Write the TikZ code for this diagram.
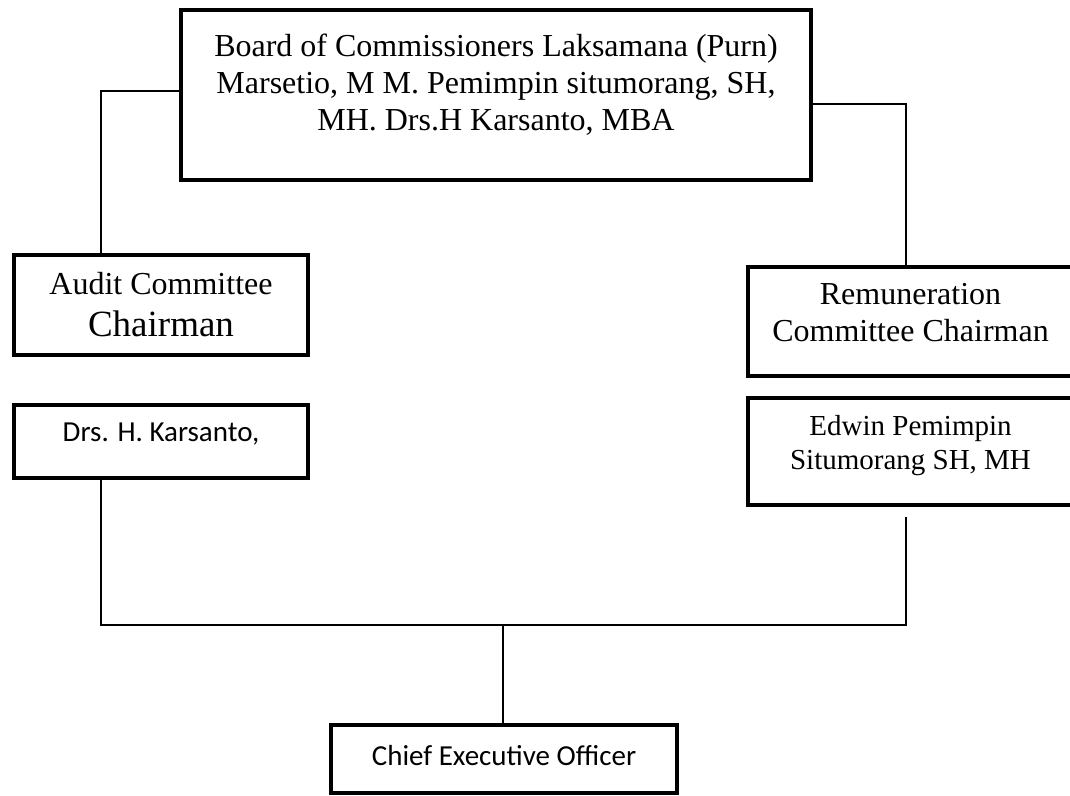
\documentclass[tikz,border=0pt]{standalone}
\usepackage{fontspec}
\setmainfont{Liberation Serif}
\newfontfamily\calibri{Carlito}
\newcommand{\lowstrut}[1]{\rule[-#1]{0pt}{#1}}

\begin{document}
\begin{tikzpicture}[x=0.5pt, y=-0.5pt,
        box/.style={draw, line width=2pt, align=center, inner sep=0pt},
        link/.style={line width=0.7pt}]
    \useasboundingbox (0,0) rectangle (1070,796);
    \clip (0,0) rectangle (1070,796);

        \node [box, minimum width=315pt, minimum height=85pt, font=\fontsize{16}{18.5}\selectfont] (board) at (496,95)
            {Board of Commissioners Laksamana (Purn)\\Marsetio, M M. Pemimpin situmorang, SH,\\MH. Drs.H Karsanto, MBA\lowstrut{12.5pt}};
        \node [box, minimum width=147pt, minimum height=50pt, font=\fontsize{16}{21}\selectfont] (audit) at (161,305)
            {Audit Committee\\{\fontsize{18.5}{21}\selectfont Chairman}};
        \node [box, minimum width=147pt, minimum height=36.5pt, font=\calibri\fontsize{14.5}{17}\selectfont] (drs) at (161,441.5)
            {Drs. H. Karsanto,\lowstrut{9pt}};
        \node [box, minimum width=162.5pt, minimum height=54.5pt, font=\fontsize{16}{18.5}\selectfont] (remun) at (910.5,321.5)
            {Remuneration\\Committee Chairman\lowstrut{9pt}};
        \node [box, minimum width=162.5pt, minimum height=53.5pt, font=\fontsize{14.5}{17}\selectfont] (edwin) at (910.5,451.5)
            {Edwin Pemimpin\\Situmorang SH, MH\lowstrut{9.5pt}};
        \node [box, minimum width=173pt, minimum height=34pt, font=\calibri\fontsize{14.5}{17}\selectfont] (ceo) at (504,759)
            {Chief Executive Officer\lowstrut{4pt}};

        \coordinate (bus) at (503,625);
        \coordinate (edwinfoot) at (906,517);

    \draw [link] ([yshift=2pt]board.west) -| ([xshift=44.5pt]audit.north west);
    \draw [link] ([yshift=-4.5pt]board.east) -| ([xshift=-2.25pt]remun.north);
    \draw [link] ([xshift=44.5pt]drs.south west) |- (bus) -| (edwinfoot);
    \draw [link] (bus) -- (bus |- ceo.north);
\end{tikzpicture}
\end{document}
